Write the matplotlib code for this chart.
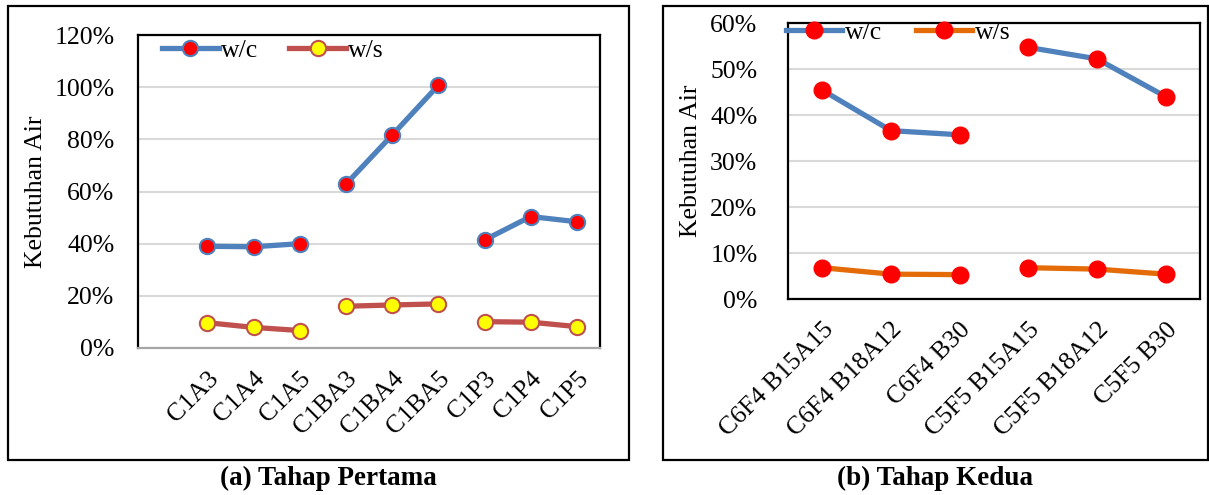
import matplotlib
matplotlib.use("Agg")
import matplotlib.pyplot as plt
from matplotlib.patches import Rectangle
from matplotlib.ticker import MultipleLocator, PercentFormatter

plt.rcParams['font.family'] = ['Liberation Serif', 'DejaVu Serif']

# ---- Tahap Pertama ----
cat_a = ["C1A3", "C1A4", "C1A5", "C1BA3", "C1BA4", "C1BA5", "C1P3", "C1P4", "C1P5"]
wc_a = [39.0, 38.8, 40.0, 62.8, 81.6, 100.7, 41.4, 50.4, 48.4]
ws_a = [9.7, 7.9, 6.7, 16.0, 16.5, 16.9, 10.1, 9.9, 8.2]
groups_a = [(0, 3), (3, 6), (6, 9)]

# ---- Tahap Kedua ----
cat_b = ["C6F4 B15A15", "C6F4 B18A12", "C6F4 B30", "C5F5 B15A15", "C5F5 B18A12", "C5F5 B30"]
wc_b = [45.4, 36.6, 35.7, 54.7, 52.2, 44.0]
ws_b = [6.8, 5.4, 5.3, 6.8, 6.5, 5.4]
groups_b = [(0, 3), (3, 6)]

W, H = 1209, 495
fig = plt.figure(figsize=(W / 100, H / 100), dpi=100)


def fx(px):
    return px / W


def fy(py):
    return 1 - py / H


# outer frames around each panel
for x0, x1 in [(8, 629), (663, 1208)]:
    fig.patches.append(Rectangle((fx(x0), fy(460)), fx(x1 - x0), (460 - 6) / H,
                                 transform=fig.transFigure, fill=False,
                                 edgecolor='black', linewidth=1.6))

ax1 = fig.add_axes([fx(138), fy(348), fx(600 - 138), (348 - 35) / H])
ax2 = fig.add_axes([fx(788), fy(299), fx(1200 - 788), (299 - 23) / H])

TICK_FS = 18.5
GRID = '#D9D9D9'


def style_axis(ax, ymax, step, xlim, cats, bottom_color, ypad):
    ax.set_ylim(0, ymax)
    ax.set_xlim(*xlim)
    ax.yaxis.set_major_locator(MultipleLocator(step))
    ax.yaxis.set_major_formatter(PercentFormatter(decimals=0))
    ax.grid(axis='y', color=GRID, linewidth=1.5)
    ax.set_axisbelow(True)
    ax.set_xticks(range(len(cats)))
    ax.set_xticklabels(cats, rotation=45, ha='right', rotation_mode='anchor',
                       fontsize=TICK_FS)
    ax.tick_params(axis='both', length=0, labelsize=TICK_FS)
    ax.tick_params(axis='x', pad=14)
    ax.tick_params(axis='y', pad=ypad)
    for s in ax.spines.values():
        s.set_color('black')
        s.set_linewidth(1.6)
    ax.spines['bottom'].set_color(bottom_color)
    ax.set_ylabel("Kebutuhan Air", fontsize=TICK_FS)


# panel (a)
style_axis(ax1, 120, 20, (-1.5, 8.5), cat_a, '#A6A6A6', 17)
for i, (a, b) in enumerate(groups_a):
    xs = list(range(a, b))
    ax1.plot(xs, wc_a[a:b], color='#4F81BD', linewidth=3.8, marker='o',
             markersize=11, markerfacecolor='#FF0000', markeredgecolor='#4F81BD',
             markeredgewidth=1.5, label='w/c' if i == 0 else None, zorder=3)
    ax1.plot(xs, ws_a[a:b], color='#C0504D', linewidth=3.8, marker='o',
             markersize=11, markerfacecolor='#FFFF00', markeredgecolor='#C0504D',
             markeredgewidth=1.5, label='w/s' if i == 0 else None, zorder=3)
ax1.yaxis.labelpad = 5
ax1.legend(loc='upper left', bbox_to_anchor=(0.03, 1.02), ncol=2, frameon=False,
           fontsize=TICK_FS, handlelength=2.2, handletextpad=0.1,
           columnspacing=1.2, borderaxespad=0)

# panel (b)
style_axis(ax2, 60, 10, (-0.5, 5.5), cat_b, 'black', 22)
for i, (a, b) in enumerate(groups_b):
    xs = list(range(a, b))
    ax2.plot(xs, wc_b[a:b], color='#4F81BD', linewidth=3.8, marker='o',
             markersize=12, markerfacecolor='#FF0000', markeredgecolor='#FF0000',
             label='w/c' if i == 0 else None, zorder=3)
    ax2.plot(xs, ws_b[a:b], color='#E36C09', linewidth=3.8, marker='o',
             markersize=12, markerfacecolor='#FF0000', markeredgecolor='#FF0000',
             label='w/s' if i == 0 else None, zorder=3)
ax2.yaxis.labelpad = 6
ax2.legend(loc='upper left', bbox_to_anchor=(-0.03, 1.045), ncol=2, frameon=False,
           fontsize=TICK_FS, handlelength=2.2, handletextpad=0.1,
           columnspacing=1.3, borderaxespad=0)

# captions
fig.text(fx(328), fy(478), "(a) Tahap Pertama", ha='center', va='center',
         fontsize=19.5, fontweight='bold')
fig.text(fx(935), fy(478), "(b) Tahap Kedua", ha='center', va='center',
         fontsize=19.5, fontweight='bold')

fig.savefig("out.png", dpi=100)
